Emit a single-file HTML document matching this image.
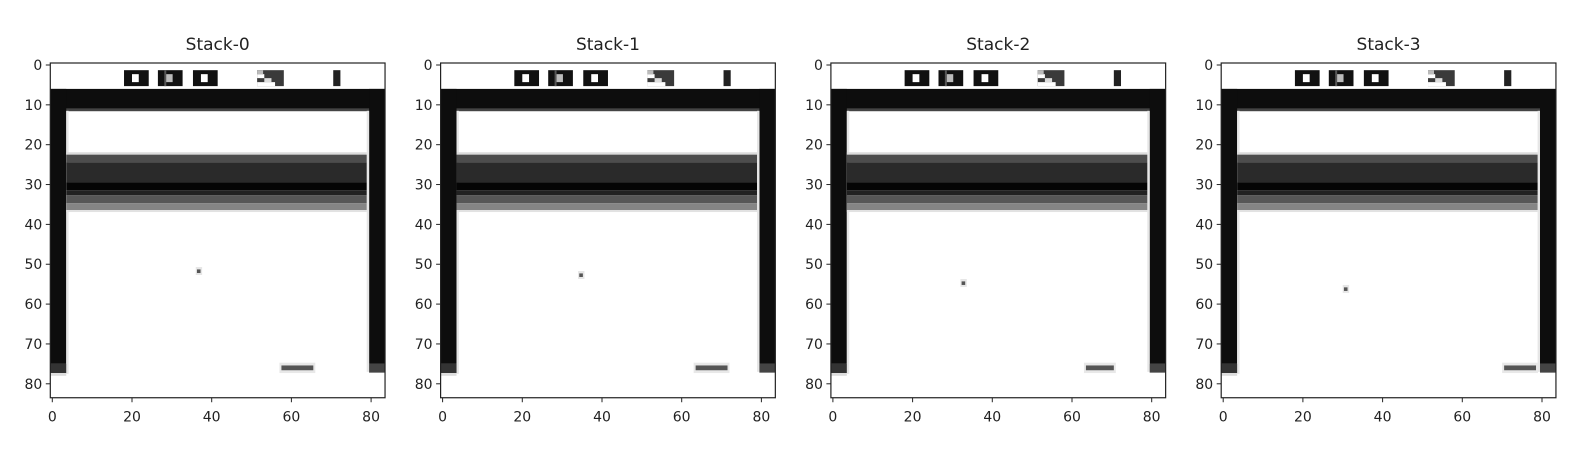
<!DOCTYPE html>
<html><head><meta charset="utf-8">
<style>
html,body{margin:0;padding:0;background:#fff;}
svg text{font-family:"DejaVu Sans","Liberation Sans",sans-serif;fill:#222;}
</style></head>
<body>
<svg id="chart" width="1572" height="450" viewBox="0 0 1572 450" xmlns="http://www.w3.org/2000/svg"></svg>
<script>
const titles = ["Stack-0","Stack-1","Stack-2","Stack-3"];
const ballCol = [37, 35, 33, 31];
const ballRow = [52, 53, 55, 56.5];
const paddleStart = [58, 64, 64, 71];
const paddleEnd = [66, 72, 71, 79];
const tickVals = [0,10,20,30,40,50,60,70,80];
const xTickVals = [0,20,40,60,80];

const NS="http://www.w3.org/2000/svg";
const svg=document.getElementById('chart');
const S=3.985, TOP=63, P0=50.3, GAP=390.3;
function mk(tag,attrs,parent){const e=document.createElementNS(NS,tag);for(const k in attrs)e.setAttribute(k,attrs[k]);(parent||svg).appendChild(e);return e;}

titles.forEach((t,i)=>{
  const L=P0+i*GAP;
  const g=mk('g',{});
  
  
  const xs=c=>L+c*S, ys=r=>TOP+r*S;
  const px=(c,r,w,h,fill,name)=>{const e=mk('rect',{x:xs(c),y:ys(r),width:w*S,height:h*S,fill:fill},g);if(name){}return e;};
  px(0,0,84,84,'#fff','frame-bg');
  // score digits
  const sg=mk('g',{},g);
  
  
  [18.5,27,35.8].forEach((c,k)=>{
    px(c,1.8,6.2,4,'#111');
    px(c+2,2.8,1.7,2,k===1?'#bbb':'#fff');
    if(k===1){px(c+1.6,1.8,0.5,4,'#555');}
  });
  px(51.9,1.8,6.7,4,'#3a3a3a');
  px(51.9,2.8,1.8,1,'#fff');
  px(53.7,3.8,1.8,1,'#ddd');
  px(51.9,4.8,4.5,1,'#fff');
  px(51.9,1.8,1.5,1,'#bbb');
  px(71,1.8,1.8,4,'#222');
  // top bar
  px(0,6.5,84,5,'#0d0d0d','top-wall');
  px(0,11.5,84,0.6,'#444');
  // walls
  px(0,6.5,4,69,'#0d0d0d','left-wall');
  px(4,12,0.6,66,'#e6e6e6');
  px(0,75.5,4,2.3,'#333');
  px(0,77.8,4,0.7,'#ddd');
  px(80,6.5,4,69,'#0d0d0d','right-wall');
  px(79.4,12,0.6,65.5,'#e6e6e6');
  px(80,75.5,4,2.2,'#444');
  // bricks
  const bg=mk('g',{},g);
  
  
  px(4,22.4,75.4,0.6,'#dcdcdc');
  px(4,23,75.4,1.9,'#4d4d4d');
  px(4,24.9,75.4,5,'#2a2a2a');
  px(4,29.9,75.4,2,'#050505');
  px(4,31.9,75.4,1.3,'#222');
  px(4,33.2,75.4,2,'#575757');
  px(4,35.2,75.4,1.7,'#858585');
  px(4,36.9,75.4,0.5,'#e2e2e2');
  // ball
  px(ballCol[i]-0.5,ballRow[i]-0.8,1.6,2,'#e6e6e6');
  px(ballCol[i]-0.2,ballRow[i]-0.2,0.9,0.9,'#555','ball');
  // paddle
  px(paddleStart[i]-0.5,75.2,paddleEnd[i]-paddleStart[i]+1,2.6,'#e8e8e8');
  px(paddleStart[i],75.9,paddleEnd[i]-paddleStart[i],1.2,'#555','paddle');
  // axes frame
  const fr=mk('rect',{x:L,y:TOP,width:84*S,height:84*S,fill:'none',stroke:'#222','stroke-width':1.2},g);
  
  
  const tt=mk('text',{x:L+42*S,y:50,'font-size':17,'text-anchor':'middle'},g);
  tt.textContent=t;
  
  
  tickVals.forEach(v=>{
    const y=ys(v+0.5);
    mk('line',{x1:L-4.5,x2:L,y1:y,y2:y,stroke:'#222','stroke-width':1},g);
    const tx=mk('text',{x:L-8,y:y+5,'font-size':14,'text-anchor':'end'},g);
    tx.textContent=v;
    
    
  });
  xTickVals.forEach(v=>{
    const x=xs(v+0.5), y=TOP+84*S;
    mk('line',{x1:x,x2:x,y1:y,y2:y+4.5,stroke:'#222','stroke-width':1},g);
    const tx=mk('text',{x:x,y:y+24,'font-size':14,'text-anchor':'middle'},g);
    tx.textContent=v;
    
    
  });
});
</script>
</body></html>
